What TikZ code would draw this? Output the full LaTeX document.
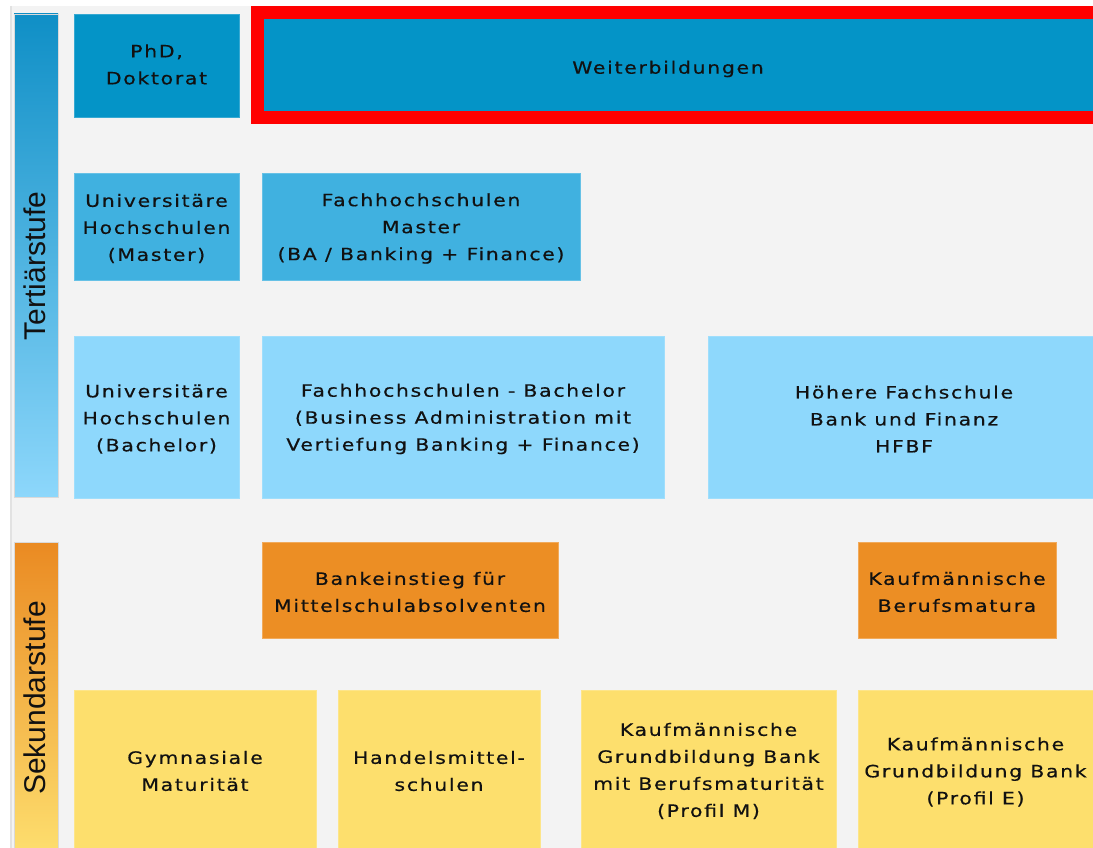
\documentclass[tikz,border=0pt]{standalone}
\usepackage{fontspec}
\setmainfont{DejaVu Sans}[FakeStretch=1.2, LetterSpace=10, FakeBold=0.5]
\newfontfamily\labelfont{Liberation Sans}
\definecolor{bggray}{HTML}{F3F3F3}
\definecolor{edgegray}{HTML}{E2E2E2}
\definecolor{darkblue}{HTML}{0494C7}
\definecolor{midblue}{HTML}{40B1E0}
\definecolor{lightblue}{HTML}{8ED8FC}
\definecolor{orangebox}{HTML}{EC8E24}
\definecolor{yellowbox}{HTML}{FDDF6D}
\definecolor{tertop}{HTML}{0F8FC6}
\definecolor{terbot}{HTML}{8DD7FB}
\definecolor{sektop}{HTML}{EA8A22}
\definecolor{sekbot}{HTML}{FDDE6E}
\definecolor{inktext}{HTML}{111111}
\tikzset{
  txt/.style={inner sep=0pt, align=center, text=inktext,
    font=\fontsize{17}{27}\selectfont},
  box/.style={rectangle, inner sep=0pt},
  boxtext/.style={label={[txt, yshift=-2pt]center:#1}},
  boxtexthigh/.style={label={[txt, yshift=1pt]center:#1}},
  phdbox/.style={box, fill=darkblue, draw=darkblue!80!white, line width=0.8pt},
  masterbox/.style={box, fill=midblue, draw=midblue!80!white, line width=0.8pt},
  bachbox/.style={box, fill=lightblue, draw=lightblue!85!white, line width=0.8pt},
  orabox/.style={box, fill=orangebox, draw=orangebox!75!white, line width=0.8pt},
  yelbox/.style={box, fill=yellowbox, draw=yellowbox!80!white, line width=0.8pt},
  framebox/.style={box, fill=darkblue, draw=red, line width=13pt},
  levelbar/.style={rectangle, inner sep=0pt, draw=white!70!gray, line width=0.6pt},
  levellabel/.style={rotate=90, text=inktext, font=\labelfont\fontsize{30}{30}\selectfont, inner sep=0pt}
}
\begin{document}
\begin{tikzpicture}[x=1pt,y=-1pt]
\useasboundingbox (0,0) rectangle (1093,848);
\clip (0,0) rectangle (1093,848);
% background
\fill[white] (0,0) rectangle (1093,848);
\fill[bggray] (10,6) rectangle (1100,860);
\draw[edgegray, line width=1.5pt] (10.75,6) -- (10.75,860);
% level bars
\node[levelbar, top color=tertop, bottom color=terbot, minimum width=44pt, minimum height=483pt] (tertbar) at (36,255.5) {};
\node[levellabel] (tertlabel) at (35,266) {Tertiärstufe};
\node[levelbar, top color=sektop, bottom color=sekbot, minimum width=44pt, minimum height=310pt] (sekbar) at (36,697) {};
\node[levellabel] (seklabel) at (35,698) {Sekundarstufe};
% row 1
\node[phdbox, minimum width=165pt, minimum height=103pt, boxtexthigh={PhD,\\Doktorat}] (phd) at (156.5,65.5) {};
\node[framebox, minimum width=842.5pt, minimum height=105.5pt] (weiter) at (678.75,65.25) {};
\node[txt] (weitertext) at (668,69) {Weiterbildungen};
% row 2
\node[masterbox, minimum width=165pt, minimum height=107pt, boxtext={Universitäre\\Hochschulen\\(Master)}] (umaster) at (156.5,226.5) {};
\node[masterbox, minimum width=318pt, minimum height=107pt, boxtext={Fachhochschulen\\Master\\(BA / Banking + Finance)}] (fhmaster) at (421,226.5) {};
% row 3
\node[bachbox, minimum width=165pt, minimum height=162pt, boxtext={Universitäre\\Hochschulen\\(Bachelor)}] (ubach) at (156.5,417) {};
\node[bachbox, minimum width=402pt, minimum height=162pt, boxtext={Fachhochschulen - Bachelor\\(Business Administration mit\\Vertiefung Banking + Finance)}] (fhbach) at (463,417) {};
\node[bachbox, minimum width=392pt, minimum height=162pt, boxtext={Höhere Fachschule\\Bank und Finanz\\HFBF}] (hfbf) at (904,417) {};
% row 4
\node[orabox, minimum width=296pt, minimum height=96pt, boxtext={Bankeinstieg für\\Mittelschulabsolventen}] (bankein) at (410,590) {};
\node[orabox, minimum width=198pt, minimum height=96pt, boxtext={Kaufmännische\\Berufsmatura}] (kbm) at (957,590) {};
% row 5
\node[yelbox, minimum width=242pt, minimum height=158pt, boxtext={Gymnasiale\\Maturität}] (gym) at (195,769) {};
\node[yelbox, minimum width=202pt, minimum height=158pt, boxtext={Handelsmittel-\\schulen}] (handel) at (439,769) {};
\node[yelbox, minimum width=255pt, minimum height=158pt, boxtext={Kaufmännische\\Grundbildung Bank\\mit Berufsmaturität\\(Profil M)}] (kgm) at (708.5,769) {};
\node[yelbox, minimum width=242pt, minimum height=158pt] (kge) at (979,769) {};
\node[txt] (kgetext) at (975.5,772) {Kaufmännische\\Grundbildung Bank\\(Profil E)};
\end{tikzpicture}
\end{document}
